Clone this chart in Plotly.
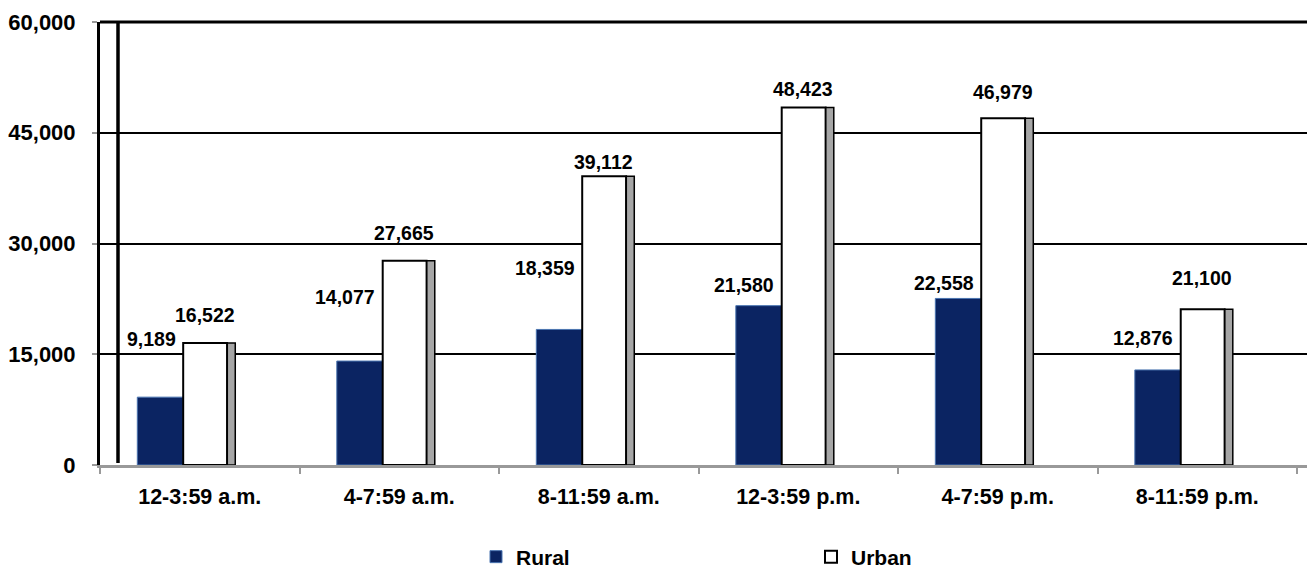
import plotly.graph_objects as go

categories = ["12-3:59 a.m.", "4-7:59 a.m.", "8-11:59 a.m.", "12-3:59 p.m.", "4-7:59 p.m.", "8-11:59 p.m."]
rural = [9189, 14077, 18359, 21580, 22558, 12876]
urban = [16522, 27665, 39112, 48423, 46979, 21100]
y_ticks = [0, 15000, 30000, 45000, 60000]

# label vertical offsets (px above the bar top), layout only
rural_label_shift = [58, 64, 61, 21, 15, 32]
urban_label_shift = [28, 28, 14, 18, 26, 31]

# page body has an 8px margin, so the figure is sized to fit the window
OFF = 8
W, H = 1315 - OFF, 574 - OFF
L, R, T = 100 - OFF, 2, 22 - OFF
PW = W - L - R
PH = 443
B = H - T - PH
FONT = "Liberation Sans, Arial, sans-serif"

def px(x):  # window x -> paper
    return (x - 100) / PW

def py(y):  # window y -> paper
    return (465 - y) / PH

fig = go.Figure()
fig.add_trace(go.Bar(
    name="Rural", x=categories, y=rural,
    offset=-0.313, width=0.23,
    marker=dict(color="#0b2462", line=dict(color="#4a74b0", width=1)),
))
fig.add_trace(go.Bar(
    name="Urban", x=categories, y=urban,
    offset=-0.083, width=0.22,
    marker=dict(color="#ffffff", line=dict(color="#000000", width=2)),
))
fig.add_trace(go.Bar(
    name="Urban side", x=categories, y=urban,
    offset=0.138, width=0.04, showlegend=False, hoverinfo="skip",
    marker=dict(color="#a6a6a6", line=dict(color="#000000", width=1.5)),
))

annotations = []
for c, v, s in zip(categories, rural, rural_label_shift):
    annotations.append(dict(x=c, y=v, xref="x", yref="y", text=f"{v:,}",
                            showarrow=False, xanchor="right", yanchor="middle",
                            xshift=-22, yshift=s,
                            font=dict(family=FONT, size=19.5, color="#000", weight="bold")))
for c, v, s in zip(categories, urban, urban_label_shift):
    annotations.append(dict(x=c, y=v, xref="x", yref="y", text=f"{v:,}",
                            showarrow=False, xanchor="center", yanchor="middle",
                            xshift=5, yshift=s,
                            font=dict(family=FONT, size=19.5, color="#000", weight="bold")))

shapes = [
    # top frame line
    dict(type="line", xref="paper", yref="paper", x0=px(100), x1=px(1313), y0=1, y1=1,
         line=dict(color="#000", width=3), layer="above"),
    # right frame line
    dict(type="line", xref="paper", yref="paper", x0=px(1313), x1=px(1313), y0=0, y1=1,
         line=dict(color="#000", width=2), layer="above"),
    # inner wall edge
    dict(type="line", xref="paper", yref="paper", x0=px(118), x1=px(118), y0=py(463), y1=1,
         line=dict(color="#000", width=3.5), layer="above"),
]

fig.update_layout(
    width=W, height=H,
    margin=dict(l=L, r=R, t=T, b=B, pad=0, autoexpand=False),
    paper_bgcolor="#ffffff", plot_bgcolor="#ffffff",
    barmode="overlay",
    showlegend=True,
    legend=dict(orientation="h", x=px(476), xanchor="left", y=py(557), yanchor="middle",
                entrywidth=290, entrywidthmode="pixels",
                font=dict(family=FONT, size=21, color="#000", weight="bold"),
                bgcolor="rgba(0,0,0,0)", traceorder="normal"),
    annotations=annotations,
    shapes=shapes,
    font=dict(family=FONT, color="#000"),
)
fig.update_xaxes(
    type="category", range=[-0.5, 5.58], tickson="boundaries", automargin=False,
    showline=True, linecolor="#999999", linewidth=3,
    ticks="outside", ticklen=6, tickcolor="#999999", tickwidth=1.5,
    showgrid=False, ticklabelstandoff=10,
    tickfont=dict(family=FONT, size=21.5, color="#000", weight="bold"),
)
fig.update_yaxes(
    range=[0, 60000], tickvals=y_ticks, ticktext=[f"{t:,}" for t in y_ticks],
    automargin=False,
    showline=True, linecolor="#000", linewidth=3,
    ticks="outside", ticklen=5, tickcolor="#999999", tickwidth=1.5,
    showgrid=True, gridcolor="#000", gridwidth=2, zeroline=False,
    ticklabelstandoff=12,
    tickfont=dict(family=FONT, size=22, color="#000", weight="bold"),
)

fig.write_html("out.html")
